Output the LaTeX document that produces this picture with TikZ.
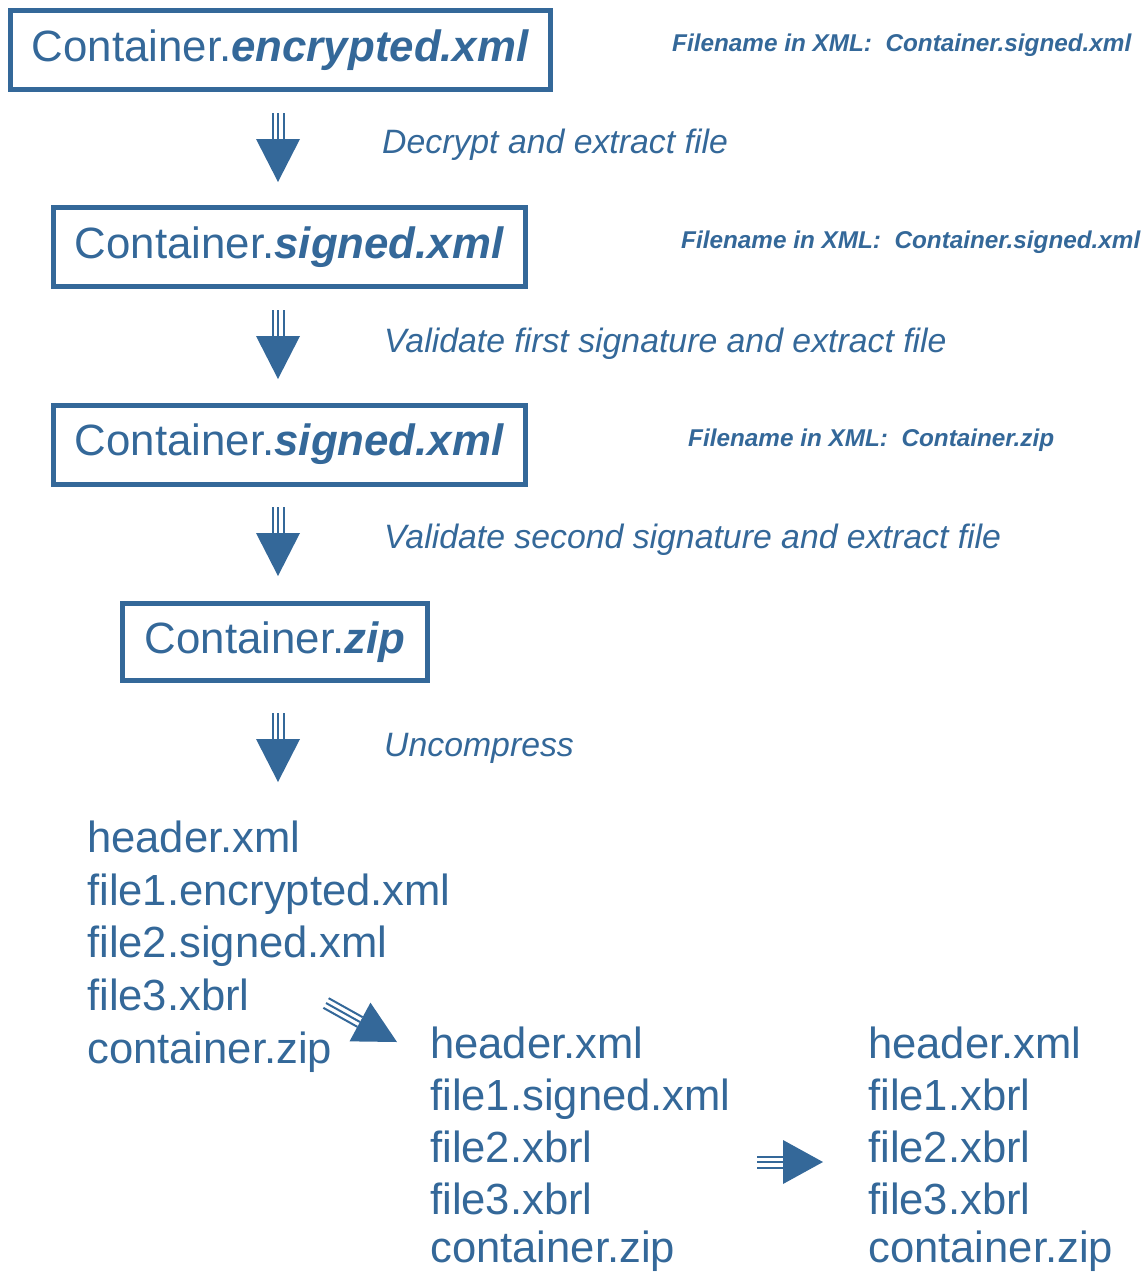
\documentclass[tikz,border=0pt]{standalone}
\usepackage{fontspec}
\setmainfont{Liberation Sans}
\usetikzlibrary{calc}
\definecolor{fblue}{RGB}{52,104,153}
\tikzset{
 filebox/.style={draw=fblue, line width=5pt, text=fblue, font=\fontsize{43.8}{50}\selectfont, minimum height=79pt, inner sep=0pt},
 steplabel/.style={anchor=base west, text=fblue, font=\fontsize{33.8}{40}\selectfont\itshape, inner sep=0pt},
 xmllabel/.style={anchor=base west, text=fblue, font=\fontsize{24.3}{28}\selectfont\bfseries\itshape, inner sep=0pt},
 listitem/.style={anchor=base west, text=fblue, font=\fontsize{43.6}{50}\selectfont, inner sep=0pt},
 shaftline/.style={draw=fblue, line width=2pt},
 headfill/.style={fill=fblue},
}
\newcommand\fatarrow[3]{%
 \foreach \o in {-5.5,0,5.5}{\draw[shaftline] ($(#1)!\o pt!90:(#3)$) -- ($(#2)!\o pt!90:(#3)$);}
 \fill[headfill] ($(#2)!22pt!90:(#3)$) -- (#3) -- ($(#2)!-22pt!90:(#3)$) -- cycle;}
\begin{document}
\begin{tikzpicture}[x=1pt,y=-1pt]
\useasboundingbox (0,0) rectangle (1145,1272);
% boxes
\node[filebox, minimum width=540pt] (b1) at (280.5,50) {Container.\textbf{\textit{encrypted.xml}}};
\node[filebox, minimum width=472pt] (b2) at (289.5,247) {Container.\textbf{\textit{signed.xml}}};
\node[filebox, minimum width=472pt] (b3) at (289.5,444.5) {Container.\textbf{\textit{signed.xml}}};
\node[filebox, minimum width=305pt, minimum height=77pt] (b4) at (275,642) {Container.\textbf{\textit{zip}}};
% xml filename labels
\node[xmllabel] (x1) at (672,51) {Filename in XML:\ \ Container.signed.xml};
\node[xmllabel] (x2) at (681,248) {Filename in XML:\ \ Container.signed.xml};
\node[xmllabel] (x3) at (688,446) {Filename in XML:\ \ Container.zip};
% step labels
\node[steplabel] (s1) at (382,153) {Decrypt and extract file};
\node[steplabel] (s2) at (384,352) {Validate first signature and extract file};
\node[steplabel] (s3) at (384,548) {Validate second signature and extract file};
\node[steplabel] (s4) at (384,756) {Uncompress};
% down arrows
\coordinate (a1s) at (278,113); \coordinate (a1b) at (278,139); \coordinate (a1t) at (278,182);
\coordinate (a2s) at (278,310); \coordinate (a2b) at (278,336); \coordinate (a2t) at (278,379);
\coordinate (a3s) at (278,507); \coordinate (a3b) at (278,533); \coordinate (a3t) at (278,576);
\coordinate (a4s) at (278,713); \coordinate (a4b) at (278,739); \coordinate (a4t) at (278,782);
\fatarrow{a1s}{a1b}{a1t}
\fatarrow{a2s}{a2b}{a2t}
\fatarrow{a3s}{a3b}{a3t}
\fatarrow{a4s}{a4b}{a4t}
% list 1
\node[listitem] (l1a) at (87,852) {header.xml};
\node[listitem] (l1b) at (87,905) {file1.encrypted.xml};
\node[listitem] (l1c) at (87,957) {file2.signed.xml};
\node[listitem] (l1d) at (87,1010) {file3.xbrl};
\node[listitem] (l1e) at (87,1063) {container.zip};
% list 2
\node[listitem] (l2a) at (430,1058) {header.xml};
\node[listitem] (l2b) at (430,1110) {file1.signed.xml};
\node[listitem] (l2c) at (430,1162) {file2.xbrl};
\node[listitem] (l2d) at (430,1214) {file3.xbrl};
\node[listitem] (l2e) at (430,1262) {container.zip};
% list 3
\node[listitem] (l3a) at (868,1058) {header.xml};
\node[listitem] (l3b) at (868,1110) {file1.xbrl};
\node[listitem] (l3c) at (868,1162) {file2.xbrl};
\node[listitem] (l3d) at (868,1214) {file3.xbrl};
\node[listitem] (l3e) at (868,1262) {container.zip};
% diagonal and right arrows
\coordinate (d1s) at (326,1003); \coordinate (d1b) at (360,1022); \coordinate (d1t) at (397,1042);
\fatarrow{d1s}{d1b}{d1t}
\coordinate (r1s) at (757,1162); \coordinate (r1b) at (783,1162); \coordinate (r1t) at (823,1162);
\fatarrow{r1s}{r1b}{r1t}
\end{tikzpicture}
\end{document}
